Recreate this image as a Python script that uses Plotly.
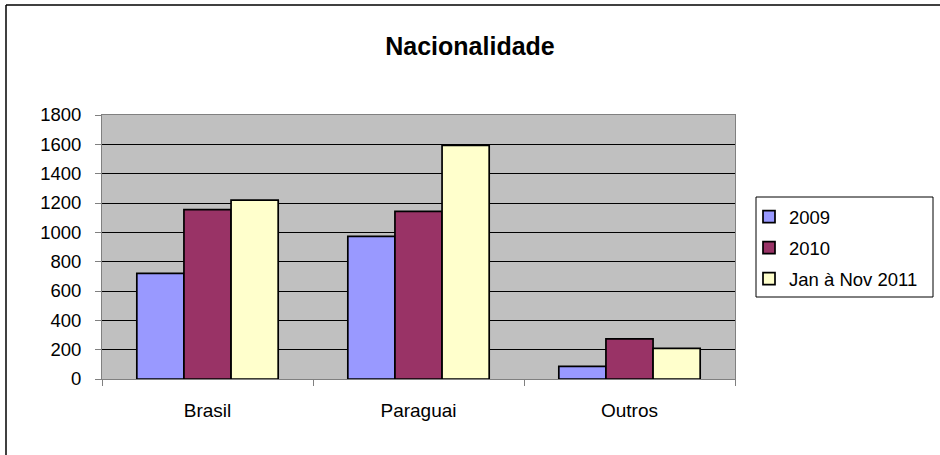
import plotly.graph_objects as go

categories = ["Brasil", "Paraguai", "Outros"]
series_names = ["2009", "2010", "Jan à Nov 2011"]
values_2009 = [720, 972, 86]
values_2010 = [1155, 1143, 273]
values_2011 = [1220, 1593, 209]
colors = ["#9999FF", "#993366", "#FFFFCC"]
y_ticks = [0, 200, 400, 600, 800, 1000, 1200, 1400, 1600, 1800]

fig = go.Figure()
for name, vals, col in zip(series_names, [values_2009, values_2010, values_2011], colors):
    fig.add_trace(go.Bar(
        x=categories, y=vals, name=name, legendgroup=name,
        marker=dict(color=col, line=dict(color="#000000", width=1.7)),
    ))

W, H = 940, 455
L, R, T, B = 102, 205, 115, 76
pw, ph = W - L - R, H - T - B

def px_x(p):
    return (p - L) / pw

def px_y(p):
    return (H - B - p) / ph

fig.update_layout(
    width=W, height=H,
    margin=dict(l=L, r=R, t=T, b=B, autoexpand=False),
    paper_bgcolor="white",
    plot_bgcolor="#C0C0C0",
    font=dict(family="Liberation Sans, Arial, sans-serif", size=18, color="#000000"),
    barmode="group",
    bargap=0.33,
    bargroupgap=0,
    title=dict(
        text="<b>Nacionalidade</b>",
        font=dict(size=25, color="#000000"),
        x=0.5, xref="container", xanchor="center",
        y=1 - 46 / H, yref="container", yanchor="middle",
    ),
    showlegend=True,
    legend=dict(
        x=749 / W, xref="container", xanchor="left",
        y=1 - 198 / H, yref="container", yanchor="top",
        bgcolor="rgba(0,0,0,0)", borderwidth=0,
        font=dict(size=18.5, color="#000000"),
        itemwidth=30,
        tracegroupgap=4,
    ),
    xaxis=dict(
        type="category",
        showline=True, linecolor="#808080", linewidth=1, mirror=True,
        ticks="outside", tickson="boundaries", ticklen=6, tickcolor="#808080",
        showgrid=False,
        tickfont=dict(size=19),
        ticklabelstandoff=14,
    ),
    yaxis=dict(
        range=[0, 1800],
        tickvals=y_ticks,
        showline=True, linecolor="#808080", linewidth=1, mirror=True,
        ticks="outside", ticklen=6, tickcolor="#808080",
        showgrid=True, gridcolor="#000000", gridwidth=1,
        zeroline=False,
        tickfont=dict(size=18.5),
        ticklabelstandoff=10,
    ),
    shapes=[
        dict(type="line", xref="paper", yref="paper",
             x0=px_x(6), x1=px_x(6), y0=px_y(5), y1=px_y(H + 5),
             line=dict(color="#000000", width=1.5)),
        dict(type="line", xref="paper", yref="paper",
             x0=px_x(6), x1=px_x(W + 5), y0=px_y(5), y1=px_y(5),
             line=dict(color="#000000", width=1.5)),
        dict(type="rect", xref="paper", yref="paper",
             x0=px_x(756), x1=px_x(933), y0=px_y(197), y1=px_y(297),
             line=dict(color="#000000", width=1), fillcolor="rgba(0,0,0,0)",
             layer="above"),
    ],
)

fig.write_html(
    "out.html",
    config={"displayModeBar": False, "staticPlot": True},
    post_script="document.body.style.margin='0';document.body.style.overflow='hidden';",
)
